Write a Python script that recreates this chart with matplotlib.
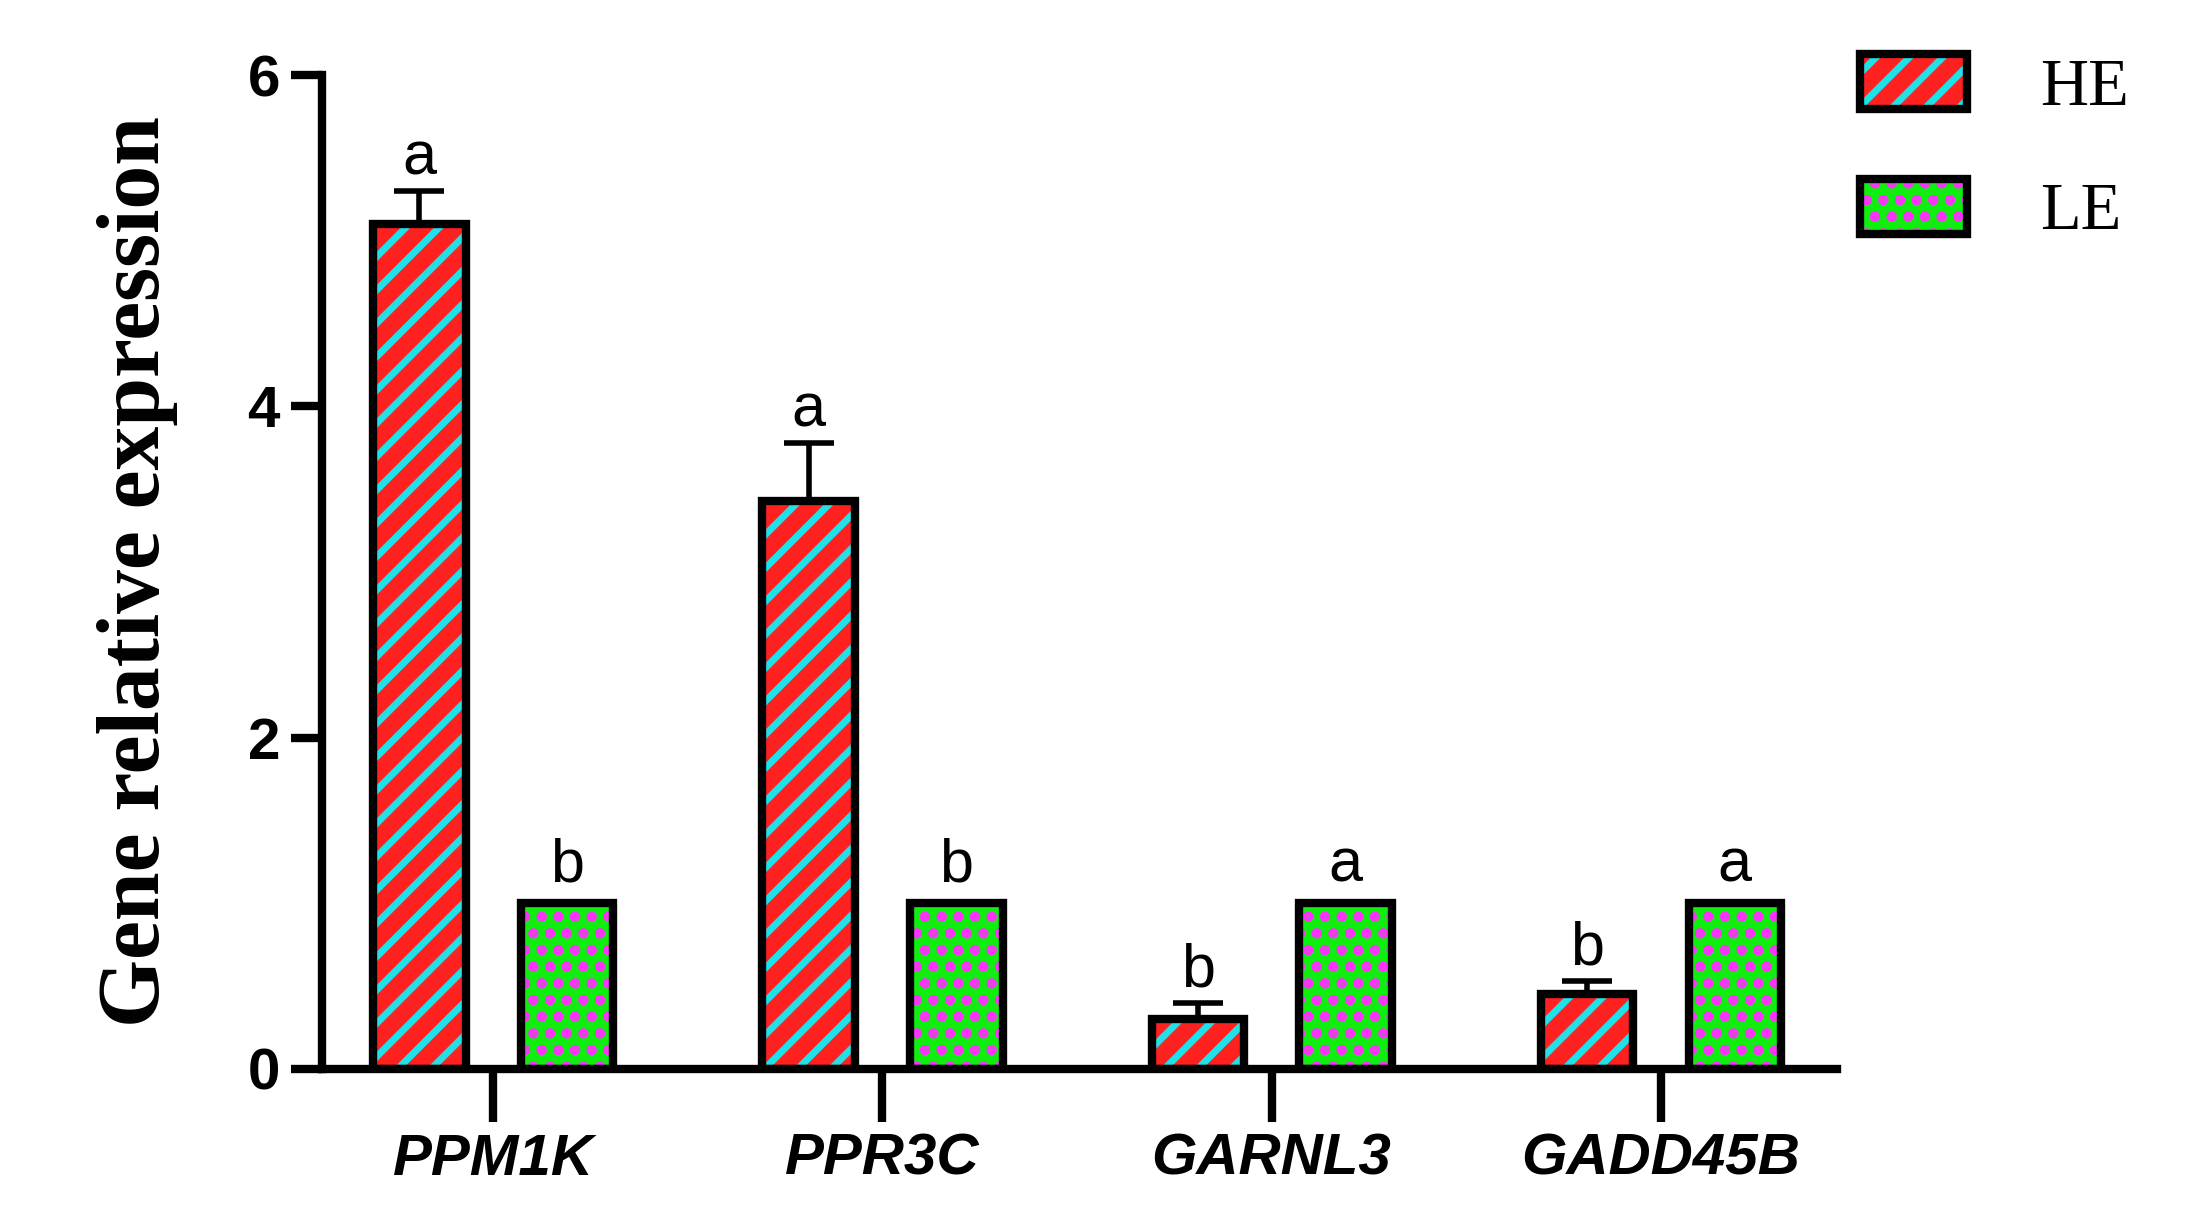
import numpy as np
import matplotlib.pyplot as plt
from matplotlib.patches import Patch

genes = ["PPM1K", "PPR3C", "GARNL3", "GADD45B"]
he_vals = [5.1, 3.43, 0.3, 0.45]
he_err = [0.2, 0.35, 0.1, 0.08]
le_vals = [1.0, 1.0, 1.0, 1.0]
he_letters = ["a", "a", "b", "b"]
le_letters = ["b", "b", "a", "a"]

plt.rcParams['hatch.linewidth'] = 5

fig = plt.figure(figsize=(21.89, 12.32), dpi=100)
ax = fig.add_axes([0.147, 0.1325, 0.692, 0.8065])

x = np.arange(len(genes))
w = 0.237
off = 0.19
red, cyan, green, pink = "#ff2020", "#20e0e8", "#10ee10", "#ff30ff"
sans = ["Liberation Sans", "DejaVu Sans"]

# hatched fills (hatch colour follows edgecolor), then black outlines on top
ax.bar(x - off, he_vals, w, color=red, edgecolor=cyan, hatch="/", linewidth=0, zorder=2)
ax.bar(x + off, le_vals, w, color=green, edgecolor=pink, hatch=".", linewidth=0, zorder=2)
ax.bar(x - off, he_vals, w, fill=False, edgecolor="black", linewidth=6, zorder=3)
ax.bar(x + off, le_vals, w, fill=False, edgecolor="black", linewidth=6, zorder=3)
ax.errorbar(x - off, he_vals, yerr=[np.zeros(4), he_err], fmt="none", ecolor="black",
            elinewidth=4, capsize=18, capthick=4, zorder=1)

for i in range(len(genes)):
    ax.text(x[i] - off, he_vals[i] + he_err[i] + 0.02, he_letters[i], ha="center", va="bottom",
            fontsize=44, family=sans)
    ax.text(x[i] + off, le_vals[i] + 0.05, le_letters[i], ha="center", va="bottom",
            fontsize=44, family=sans)

ax.set_xlim(-0.441, 3.452)
ax.set_ylim(0, 6)
ax.set_yticks([0, 2, 4, 6])
ax.set_xticks(x)
ax.set_xticklabels(genes, fontsize=42, fontweight="bold", fontstyle="italic", family=sans)
for t in ax.get_yticklabels():
    t.set_fontsize(42)
    t.set_fontweight("bold")
    t.set_family(sans)
ax.tick_params(axis="y", width=6, length=22, pad=8)
ax.tick_params(axis="x", width=6, length=38, pad=8)
for s in ["top", "right"]:
    ax.spines[s].set_visible(False)
for s in ["left", "bottom"]:
    ax.spines[s].set_linewidth(6)
ax.set_ylabel("Gene relative expression", fontsize=63, fontweight="bold",
              family="Liberation Serif", labelpad=50)

he_h = (Patch(facecolor=red, edgecolor=cyan, hatch="/", linewidth=0),
        Patch(fill=False, edgecolor="black", linewidth=6))
le_h = (Patch(facecolor=green, edgecolor=pink, hatch=".", linewidth=0),
        Patch(fill=False, edgecolor="black", linewidth=6))
fig.legend(handles=[he_h, le_h], labels=["HE", "LE"], loc="upper right",
           bbox_to_anchor=(1.0, 1.005), frameon=False,
           prop={"family": "Liberation Serif", "size": 48}, handlelength=1.6, handleheight=0.9,
           labelspacing=0.9, handletextpad=1.1)

fig.savefig("out.png", dpi=100)
